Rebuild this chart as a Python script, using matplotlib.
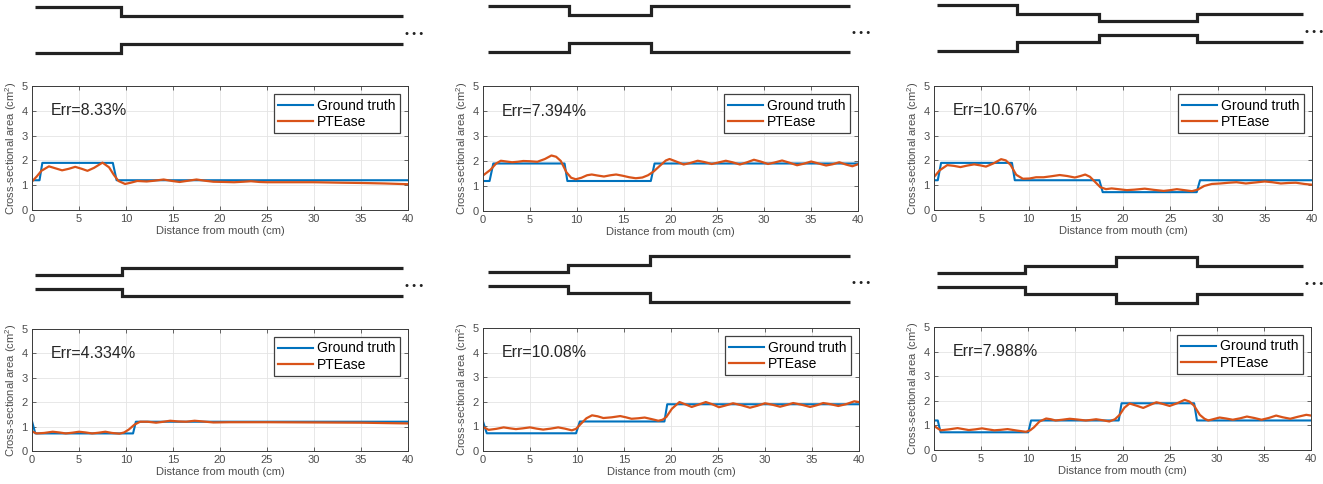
import matplotlib
matplotlib.use("Agg")
import matplotlib.pyplot as plt

plt.rcParams['font.family'] = ['Liberation Sans', 'DejaVu Sans']
plt.rcParams['mathtext.fontset'] = 'custom'
plt.rcParams['mathtext.rm'] = 'Liberation Sans'
plt.rcParams['mathtext.default'] = 'regular'

# ---- data ----
err_labels = ["Err=8.33%", "Err=7.394%", "Err=10.67%", "Err=4.334%", "Err=10.08%", "Err=7.988%"]

gt1_x = [0, 0.8, 1.1, 8.6, 9.0, 40]
gt1_y = [1.2, 1.2, 1.9, 1.9, 1.2, 1.2]
pt1_x = [0, 0.5, 1.0, 1.8, 2.5, 3.2, 3.9, 4.6, 5.3, 5.9, 6.6, 7.5, 8.2, 8.7, 9.2, 9.9, 10.5,
         11.2, 12.2, 13.0, 14.0, 14.9, 15.7, 16.6, 17.5, 18.4, 19.3, 20.5, 21.5, 22.5, 23.3,
         24.2, 25, 27, 30, 33, 35, 37.5, 40]
pt1_y = [1.15, 1.35, 1.58, 1.76, 1.68, 1.6, 1.66, 1.74, 1.66, 1.58, 1.7, 1.91, 1.72, 1.42, 1.17,
         1.05, 1.1, 1.17, 1.15, 1.18, 1.23, 1.17, 1.13, 1.18, 1.23, 1.18, 1.14, 1.13, 1.12, 1.14,
         1.16, 1.13, 1.12, 1.12, 1.12, 1.1, 1.09, 1.07, 1.04]

gt2_x = [0, 0.7, 1.1, 8.7, 9.0, 17.9, 18.3, 40]
gt2_y = [1.2, 1.2, 1.9, 1.9, 1.2, 1.2, 1.9, 1.9]
pt2_x = [0, 0.8, 1.4, 1.9, 2.5, 3.1, 3.7, 4.3, 5.0, 5.8, 6.6, 7.3, 7.8, 8.3, 8.9, 9.4, 9.9,
         10.5, 11.1, 11.6, 12.2, 12.9, 13.6, 14.2, 14.9, 15.6, 16.3, 17.0, 17.6, 18.2, 18.9,
         19.5, 19.9, 20.6, 21.4, 22.1, 22.9, 23.6, 24.4, 25.1, 25.9, 26.6, 27.4, 28.1, 28.9,
         29.6, 30.4, 31.1, 31.9, 32.7, 33.5, 34.2, 35.0, 35.7, 36.6, 37.3, 38.0, 38.7, 39.4, 40]
pt2_y = [1.42, 1.65, 1.9, 2.01, 1.98, 1.95, 1.97, 2.0, 1.99, 1.97, 2.08, 2.22, 2.17, 2.0, 1.55,
         1.33, 1.27, 1.33, 1.43, 1.46, 1.42, 1.38, 1.43, 1.46, 1.41, 1.35, 1.31, 1.34, 1.43,
         1.58, 1.82, 2.02, 2.08, 1.98, 1.86, 1.92, 2.01, 1.96, 1.88, 1.94, 2.01, 1.95, 1.86,
         1.94, 2.05, 1.98, 1.88, 1.94, 2.02, 1.93, 1.83, 1.89, 1.98, 1.91, 1.82, 1.87, 1.95,
         1.86, 1.79, 1.87]

gt3_x = [0, 0.4, 0.75, 8.25, 8.55, 17.5, 17.85, 27.8, 28.15, 40]
gt3_y = [1.2, 1.2, 1.9, 1.9, 1.2, 1.2, 0.72, 0.72, 1.2, 1.2]
pt3_x = [0, 0.6, 1.4, 2.1, 2.8, 3.5, 4.25, 4.9, 5.5, 6.3, 7.1, 7.6, 8.1, 8.7, 9.4, 10.1, 10.8,
         11.6, 12.4, 13.3, 14.1, 14.9, 15.5, 16.0, 16.5, 17.0, 17.6, 18.2, 18.8, 19.5, 20.4,
         21.2, 22.3, 23.3, 24.3, 25.0, 25.7, 26.5, 27.3, 27.9, 28.6, 29.4, 30.3, 31.2, 32.0,
         33.0, 34.0, 35.0, 35.8, 36.7, 37.5, 38.3, 39.2, 40]
pt3_y = [1.33, 1.6, 1.81, 1.78, 1.73, 1.79, 1.84, 1.8, 1.75, 1.88, 2.05, 2.0, 1.82, 1.42, 1.26,
         1.27, 1.32, 1.32, 1.36, 1.41, 1.37, 1.31, 1.37, 1.43, 1.34, 1.15, 0.92, 0.84, 0.87,
         0.84, 0.8, 0.82, 0.86, 0.81, 0.77, 0.8, 0.84, 0.8, 0.76, 0.82, 0.97, 1.05, 1.07, 1.1,
         1.12, 1.07, 1.11, 1.15, 1.12, 1.07, 1.09, 1.1, 1.05, 1.02]

gt4_x = [0, 0.35, 10.75, 11.05, 40]
gt4_y = [1.22, 0.72, 0.72, 1.2, 1.2]
pt4_x = [0, 0.5, 1.3, 2.2, 2.9, 3.6, 4.3, 5.0, 5.7, 6.4, 7.1, 7.8, 8.5, 9.3, 9.8, 10.3, 10.9,
         11.5, 12.3, 13.2, 14.0, 14.7, 15.6, 16.4, 17.3, 18.2, 19.3, 21, 25, 30, 35, 40]
pt4_y = [0.8, 0.72, 0.74, 0.79, 0.76, 0.72, 0.75, 0.79, 0.76, 0.72, 0.75, 0.79, 0.74, 0.71,
         0.76, 0.88, 1.08, 1.2, 1.2, 1.16, 1.2, 1.24, 1.21, 1.2, 1.24, 1.21, 1.17, 1.18, 1.18,
         1.17, 1.16, 1.13]

gt5_x = [0, 0.4, 9.9, 10.3, 19.3, 19.6, 40]
gt5_y = [1.2, 0.72, 0.72, 1.2, 1.2, 1.9, 1.9]
pt5_x = [0, 0.6, 1.4, 2.2, 2.9, 3.5, 4.2, 5.0, 5.7, 6.4, 7.2, 8.0, 8.7, 9.45, 9.9, 10.4, 11.0,
         11.6, 12.2, 12.8, 13.7, 14.6, 15.2, 15.8, 16.5, 17.2, 17.9, 18.65, 19.1, 19.5, 20.1,
         20.9, 21.5, 22.2, 22.9, 23.7, 24.4, 25.1, 25.8, 26.6, 27.5, 28.4, 29.2, 30.0, 30.8,
         31.6, 32.3, 33.0, 33.9, 34.8, 35.5, 36.2, 37.0, 37.8, 38.6, 39.5, 40]
pt5_y = [0.98, 0.86, 0.9, 0.96, 0.92, 0.89, 0.92, 0.96, 0.91, 0.87, 0.91, 0.96, 0.91, 0.84,
         0.9, 1.1, 1.33, 1.45, 1.41, 1.34, 1.37, 1.42, 1.37, 1.31, 1.33, 1.36, 1.3, 1.23, 1.27,
         1.38, 1.72, 1.99, 1.9, 1.79, 1.88, 1.99, 1.9, 1.78, 1.85, 1.94, 1.86, 1.76, 1.84, 1.94,
         1.88, 1.8, 1.87, 1.95, 1.88, 1.79, 1.86, 1.95, 1.9, 1.83, 1.9, 2.02, 1.99]

gt6_x = [0, 0.4, 0.7, 10.0, 10.3, 19.6, 19.9, 27.6, 27.9, 40]
gt6_y = [1.2, 1.2, 0.72, 0.72, 1.2, 1.2, 1.9, 1.9, 1.2, 1.2]
pt6_x = [0, 0.7, 1.6, 2.5, 3.1, 3.7, 4.4, 5.1, 5.7, 6.4, 7.1, 7.8, 8.8, 9.75, 10.2, 10.6, 11.2,
         11.9, 12.4, 12.9, 13.6, 14.4, 15.2, 16.1, 16.6, 17.2, 17.9, 18.6, 19.2, 19.7, 20.2,
         20.75, 21.5, 22.2, 22.9, 23.6, 24.3, 25.0, 25.8, 26.6, 27.1, 27.6, 28.2, 28.7, 29.1,
         29.7, 30.3, 31.0, 31.7, 32.5, 33.2, 34.0, 34.75, 35.5, 36.3, 37.0, 37.8, 38.6, 39.5, 40]
pt6_y = [0.98, 0.8, 0.84, 0.89, 0.85, 0.81, 0.84, 0.88, 0.84, 0.8, 0.82, 0.85, 0.79, 0.74, 0.8,
         0.92, 1.16, 1.28, 1.25, 1.2, 1.23, 1.27, 1.24, 1.2, 1.22, 1.25, 1.21, 1.16, 1.25, 1.43,
         1.72, 1.89, 1.8, 1.71, 1.83, 1.94, 1.87, 1.79, 1.9, 2.04, 1.97, 1.8, 1.43, 1.27, 1.2,
         1.26, 1.32, 1.28, 1.23, 1.29, 1.36, 1.3, 1.23, 1.3, 1.4, 1.33, 1.27, 1.35, 1.43, 1.4]

# tube sketches above each plot: step positions (cm) and section area per segment
tube1_steps, tube1_areas = [9.35], [1.9, 1.2]
tube2_steps, tube2_areas = [8.9, 18.0], [1.9, 1.2, 1.9]
tube3_steps, tube3_areas = [8.7, 17.7, 28.4], [1.9, 1.2, 0.7, 1.2]
tube4_steps, tube4_areas = [9.45], [0.7, 1.2]
tube5_steps, tube5_areas = [8.8, 17.9], [0.7, 1.2, 1.9]
tube6_steps, tube6_areas = [9.6, 19.6, 28.4], [0.7, 1.2, 1.9, 1.2]

panels = [
    (gt1_x, gt1_y, pt1_x, pt1_y, tube1_steps, tube1_areas),
    (gt2_x, gt2_y, pt2_x, pt2_y, tube2_steps, tube2_areas),
    (gt3_x, gt3_y, pt3_x, pt3_y, tube3_steps, tube3_areas),
    (gt4_x, gt4_y, pt4_x, pt4_y, tube4_steps, tube4_areas),
    (gt5_x, gt5_y, pt5_x, pt5_y, tube5_steps, tube5_areas),
    (gt6_x, gt6_y, pt6_x, pt6_y, tube6_steps, tube6_areas),
]

# ---- layout (pixels) ----
W, H = 1323, 484
axes_px = [(32, 408, 86, 210), (483, 858, 86, 211), (934, 1312, 86, 210),
           (32, 408, 329, 451), (483, 859, 328, 451), (934, 1311, 327, 450)]
tube_px = [(35, 403, 30), (488, 850, 29), (937, 1303, 28),
           (35, 403, 282), (488, 850, 279), (937, 1303, 280)]


def rect(l, r, t, b):
    return [l / W, 1 - b / H, (r - l) / W, (b - t) / H]


fig = plt.figure(figsize=(W / 100, H / 100), dpi=100)
gray = '#4d4d4d'

for i, (gx, gy, px, py, steps, areas) in enumerate(panels):
    ax = fig.add_axes(rect(*axes_px[i]))
    ax.plot(gx, gy, color='#0072BD', lw=1.5, label='Ground truth')
    ax.plot(px, py, color='#D95319', lw=1.6, label='PTEase')
    ax.set_xlim(0, 40)
    ax.set_ylim(0, 5)
    ax.set_xticks(range(0, 41, 5))
    ax.set_yticks(range(0, 6))
    ax.grid(True, color='#e4e4e4', lw=0.6)
    ax.set_axisbelow(True)
    ax.tick_params(direction='in', length=3, width=0.6, top=True, right=True,
                   labelsize=8, colors=gray, pad=3)
    for sp in ax.spines.values():
        sp.set_color('#3a3a3a')
        sp.set_linewidth(0.7)
    ax.set_xlabel('Distance from mouth (cm)', fontsize=8, color=gray, labelpad=1)
    ax.set_ylabel('Cross-sectional area (cm$^2$)', fontsize=8, color=gray, labelpad=2)
    ax.text(2.0, 4.0, err_labels[i], fontsize=11.5, va='center', color='#262626')
    leg = ax.legend(loc='upper right', fontsize=10, fancybox=False, edgecolor='#404040',
                    framealpha=1, handlelength=2.5, borderpad=0.3, labelspacing=0.2,
                    handletextpad=0.3, borderaxespad=0.6)
    leg.get_frame().set_linewidth(0.9)

    # tube sketch: wall offset grows with section area (narrow sections drawn tighter)
    l, r, c = tube_px[i]
    tax = fig.add_axes(rect(l, r, c - 30, c + 30))
    tax.set_xlim(0, 40)
    tax.set_ylim(-1.1, 1.1)
    tax.axis('off')
    edges = [0] + steps + [40]
    upper = [(a - 0.2) / 2 for a in areas]
    lower = [-(a - 0.2) / 2 for a in areas]
    tax.stairs(upper, edges, baseline=None, color='#222222', lw=2.3, clip_on=False)
    tax.stairs(lower, edges, baseline=None, color='#222222', lw=2.3, clip_on=False)
    tax.text(1.006, 0.44, '\u2022 \u2022 \u2022', transform=tax.transAxes, fontsize=8,
             va='center', ha='left', color='#222222')

fig.savefig('out.png', dpi=100)
